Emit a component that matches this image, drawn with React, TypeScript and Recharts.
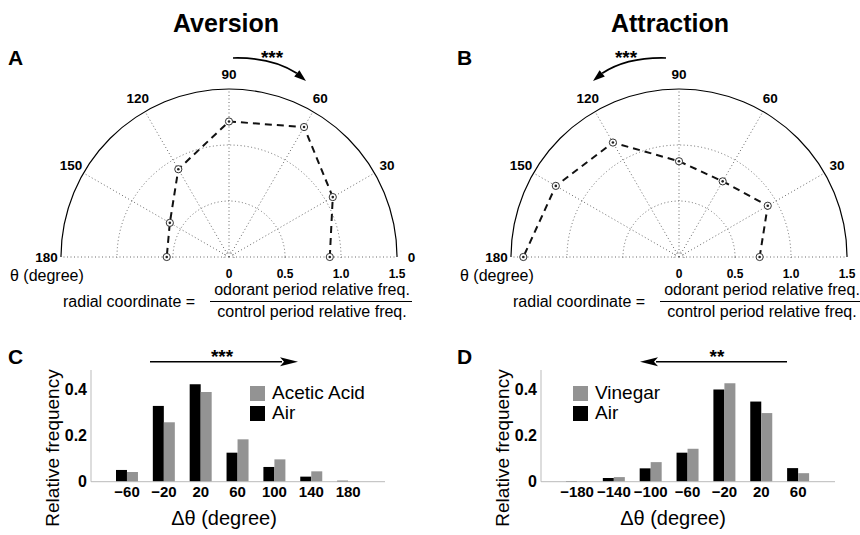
import React from 'react';
import {
  ScatterChart,
  Scatter,
  XAxis,
  YAxis,
  PieChart,
  Pie,
  PolarGrid,
  BarChart,
  Bar,
  Legend,
} from 'recharts';

const FONT = '"Liberation Sans", Arial, Helvetica, sans-serif';

// polar plots: heading angle (deg) vs odorant/control ratio
const headingAngles = [0, 30, 60, 90, 120, 150, 180];
const angleTickLabels = ['0', '30', '60', '90', '120', '150', '180'];
const aversionRatio = [0.9, 1.07, 1.34, 1.21, 0.905, 0.61, 0.556];
const attractionRatio = [0.72, 0.915, 0.78, 0.855, 1.18, 1.27, 1.39];
const radialTicks = [0, 0.5, 1.0, 1.5];
const gridRadii = [0.045, 0.5, 1.0];
const outerRing = [{ name: 'rmax', value: 1 }];

// histograms of heading change
const aversionBins = ['−60', '−20', '20', '60', '100', '140', '180'];
const aversionAir = [0.051, 0.329, 0.423, 0.126, 0.064, 0.022, 0.004];
const aceticAcid = [0.042, 0.258, 0.39, 0.184, 0.097, 0.045, 0.002];
const attractionBins = ['−180', '−140', '−100', '−60', '−20', '20', '60'];
const attractionAir = [0.003, 0.016, 0.058, 0.126, 0.4, 0.348, 0.059];
const vinegar = [0.001, 0.02, 0.085, 0.143, 0.428, 0.298, 0.037];
const freqTicks = [0, 0.2, 0.4];

const PX = 112; // pixels per radial unit
const CX = 229;
const CY = 257;
const R_MAX = 1.5;
const LABEL_R = 1.63;
const DEG = Math.PI / 180;

const PointMarker = (props: any) => {
  const { cx, cy } = props;
  return (
    <g>
      <circle cx={cx} cy={cy} r={3.6} fill="#fff" stroke="#333" strokeWidth={1} />
      <circle cx={cx} cy={cy} r={1.3} fill="#222" />
    </g>
  );
};

const AngleLabel = (props: any) => (
  <text
    x={props.cx}
    y={props.cy}
    textAnchor="middle"
    dominantBaseline="central"
    fontFamily={FONT}
    fontWeight={700}
    fontSize={13.5}
    fill="#000"
  >
    {props.payload.label}
  </text>
);

interface PolarProps {
  ratios: number[];
  left: number;
  shownLabels: string[];
}

const PolarPanel = ({ ratios, left, shownLabels }: PolarProps) => {
  const points = headingAngles.map((a, i) => ({
    x: ratios[i] * Math.cos(a * DEG),
    y: ratios[i] * Math.sin(a * DEG),
  }));
  const labels = headingAngles
    .map((a, i) => ({
      x: LABEL_R * Math.cos(a * DEG),
      y: LABEL_R * Math.sin(a * DEG),
      label: angleTickLabels[i],
    }))
    .filter((d) => shownLabels.includes(d.label));
  return (
    <div style={{ position: 'absolute', left, top: 0, width: 430, height: 290 }}>
      <div style={{ position: 'absolute', left: 0, top: 0, width: 430, height: CY + 1, overflow: 'hidden' }}>
        <PieChart
          width={430}
          height={290}
          cx={CX}
          cy={CY}
          innerRadius={0}
          outerRadius={R_MAX * PX}
          margin={{ top: 0, right: 0, bottom: 0, left: 0 }}
        >
          <PolarGrid
            gridType="circle"
            polarRadius={gridRadii.map((r) => r * PX)}
            polarAngles={headingAngles}
            stroke="#6a6a6a"
            strokeDasharray="1 2.5"
            fill="none"
          />
          <Pie
            data={outerRing}
            dataKey="value"
            cx={CX}
            cy={CY}
            innerRadius={R_MAX * PX - 0.6}
            outerRadius={R_MAX * PX + 0.6}
            startAngle={180}
            endAngle={0}
            fill="#000"
            stroke="none"
            isAnimationActive={false}
          />
        </PieChart>
      </div>
      <div style={{ position: 'absolute', left: 0, top: 0 }}>
        <ScatterChart width={430} height={290} margin={{ top: 61, right: 5, bottom: 7.4, left: 33 }}>
          <XAxis
            type="number"
            dataKey="x"
            domain={[-1.75, 1.75]}
            ticks={radialTicks}
            interval={0}
            tickFormatter={(v: number) => (v === 0 ? '0' : v.toFixed(1))}
            axisLine={false}
            tickLine={false}
            tickSize={0}
            tickMargin={7}
            height={20}
            tick={{ fontSize: 12, fontWeight: 700, fill: '#000', fontFamily: FONT }}
          />
          <YAxis type="number" dataKey="y" domain={[-0.05, 1.75]} hide />
          <Scatter data={labels} shape={AngleLabel} isAnimationActive={false} />
          <Scatter
            data={points}
            line={{ stroke: '#111', strokeWidth: 2, strokeDasharray: '7 5' }}
            lineType="joint"
            shape={PointMarker}
            isAnimationActive={false}
          />
        </ScatterChart>
      </div>
    </div>
  );
};

const legendContent = (order: string[]) => (props: any) => {
  const items = [...(props.payload || [])].sort(
    (a: any, b: any) => order.indexOf(a.dataKey) - order.indexOf(b.dataKey)
  );
  return (
    <div>
      {items.map((it: any) => (
        <div
          key={it.dataKey}
          style={{ display: 'flex', alignItems: 'center', height: 20, fontSize: 19, fontFamily: FONT, color: '#000' }}
        >
          <span style={{ display: 'inline-block', width: 15, height: 15, background: it.color, marginRight: 7 }} />
          {it.value}
        </div>
      ))}
    </div>
  );
};

interface HistProps {
  bins: string[];
  air: number[];
  odor: number[];
  odorName: string;
  left: number;
  legendLeft: number;
}

const HistPanel = ({ bins, air, odor, odorName, left, legendLeft }: HistProps) => {
  const data = bins.map((bin, i) => ({ bin, air: air[i], odor: odor[i] }));
  return (
    <div style={{ position: 'absolute', left, top: 340 }}>
      <BarChart
        width={430}
        height={195}
        data={data}
        margin={{ top: 30, right: 45, bottom: 0, left: 0 }}
        barCategoryGap="20%"
        barGap={0}
      >
        <XAxis
          dataKey="bin"
          height={53.3}
          padding={{ left: 17.6, right: 18.4 }}
          axisLine={{ stroke: '#bbb' }}
          tickLine={false}
          tickSize={0}
          tickMargin={5}
          interval={0}
          tick={{ fontSize: 15, fontWeight: 700, fill: '#000', fontFamily: FONT }}
        />
        <YAxis
          width={91}
          domain={[0, 0.485]}
          ticks={freqTicks}
          interval={0}
          tickFormatter={(v: number) => (v === 0 ? '0' : v.toFixed(1))}
          axisLine={{ stroke: '#bbb' }}
          tickLine={false}
          tickSize={0}
          tickMargin={4}
          tick={{ fontSize: 16, fontWeight: 700, fill: '#000', fontFamily: FONT }}
        />
        <Legend
          layout="vertical"
          align="center"
          verticalAlign="middle"
          content={legendContent(['odor', 'air'])}
          wrapperStyle={{ left: legendLeft, top: 43, width: 'auto' }}
        />
        <Bar dataKey="air" name="Air" fill="#000" isAnimationActive={false} />
        <Bar dataKey="odor" name={odorName} fill="#939393" isAnimationActive={false} />
      </BarChart>
    </div>
  );
};

const PolarArrow = () => (
  <g>
    <path d="M233,58 Q272,57 296.8,73.3" fill="none" stroke="#000" strokeWidth={1.7} />
    <path d="M306,81 L294.2,76.4 L299.4,70.2 Z" fill="#000" />
  </g>
);

const Fraction = ({ dx }: { dx: number }) => (
  <g fontFamily={FONT} fontSize={16} fill="#000" transform={`translate(${dx},0)`}>
    <text x={63} y={307}>radial coordinate =</text>
    <text x={312} y={294.5} textAnchor="middle">odorant period relative freq.</text>
    <line x1={210} x2={412} y1={301.5} y2={301.5} stroke="#000" strokeWidth={1} />
    <text x={312} y={317} textAnchor="middle">control period relative freq.</text>
    <text x={10} y={281}>θ (degree)</text>
  </g>
);

const Annotations = () => (
  <svg width={860} height={535} style={{ position: 'absolute', left: 0, top: 0, pointerEvents: 'none' }}>
    <g fontFamily={FONT} fill="#000">
      <text x={226} y={32} textAnchor="middle" fontSize={25} fontWeight={700}>Aversion</text>
      <text x={670} y={32} textAnchor="middle" fontSize={25} fontWeight={700}>Attraction</text>
      <text x={8} y={65} fontSize={21} fontWeight={700}>A</text>
      <text x={457} y={65} fontSize={21} fontWeight={700}>B</text>
      <text x={8} y={364} fontSize={21} fontWeight={700}>C</text>
      <text x={457} y={364} fontSize={21} fontWeight={700}>D</text>
      <text x={272} y={64} textAnchor="middle" fontSize={19} fontWeight={700}>***</text>
      <text x={626} y={64} textAnchor="middle" fontSize={19} fontWeight={700}>***</text>
      <text x={222} y={363} textAnchor="middle" fontSize={19} fontWeight={700}>***</text>
      <text x={717} y={363} textAnchor="middle" fontSize={19} fontWeight={700}>**</text>
      <text x={224} y={525} textAnchor="middle" fontSize={20}>Δθ (degree)</text>
      <text x={673} y={525} textAnchor="middle" fontSize={20}>Δθ (degree)</text>
      <text x={52} y={448} textAnchor="middle" dominantBaseline="central" fontSize={19} transform="rotate(-90,52,448)">
        Relative frequency
      </text>
      <text x={502} y={448} textAnchor="middle" dominantBaseline="central" fontSize={19} transform="rotate(-90,502,448)">
        Relative frequency
      </text>
    </g>
    <Fraction dx={0} />
    <Fraction dx={450} />
    <PolarArrow />
    <g transform="translate(899,0) scale(-1,1)">
      <PolarArrow />
    </g>
    <line x1={150} x2={282} y1={361.7} y2={361.7} stroke="#000" strokeWidth={1.6} />
    <path d="M298,361.7 L280,357.2 L284,361.7 L280,366.2 Z" fill="#000" />
    <line x1={787} x2={656} y1={361.7} y2={361.7} stroke="#000" strokeWidth={1.6} />
    <path d="M640,361.7 L658,357.2 L654,361.7 L658,366.2 Z" fill="#000" />
  </svg>
);

const App = () => (
  <div
    style={{
      position: 'absolute',
      left: 0,
      top: 0,
      width: 860,
      height: 535,
      overflow: 'hidden',
      background: '#fff',
      fontFamily: FONT,
    }}
  >
    <PolarPanel ratios={aversionRatio} left={0} shownLabels={angleTickLabels} />
    <PolarPanel
      ratios={attractionRatio}
      left={450}
      shownLabels={angleTickLabels.filter((l) => l !== '0')}
    />
    <HistPanel
      bins={aversionBins}
      air={aversionAir}
      odor={aceticAcid}
      odorName="Acetic Acid"
      left={0}
      legendLeft={250}
    />
    <HistPanel
      bins={attractionBins}
      air={attractionAir}
      odor={vinegar}
      odorName="Vinegar"
      left={450}
      legendLeft={123}
    />
    <Annotations />
  </div>
);

export default App;
